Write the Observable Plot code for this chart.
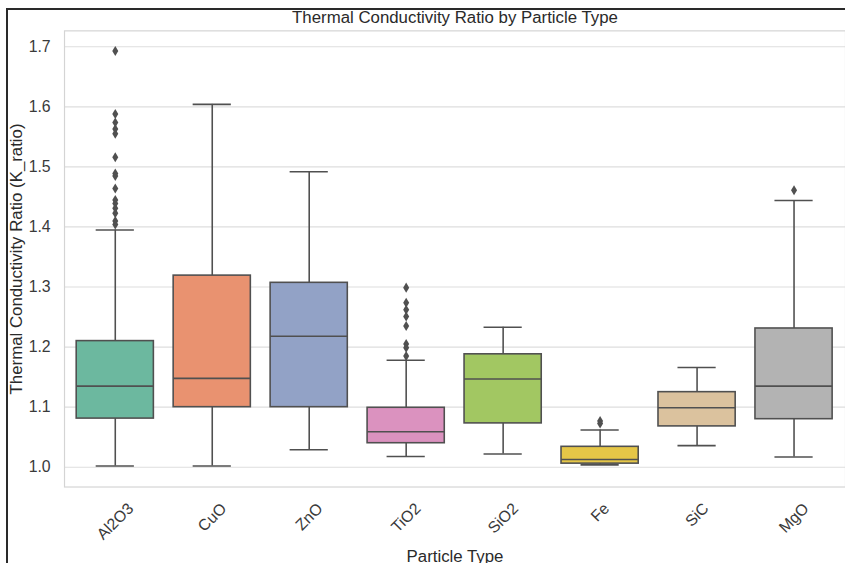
<!DOCTYPE html>
<html>
<head>
<meta charset="utf-8">
<script src="https://cdn.jsdelivr.net/npm/d3@7"></script>
<script src="https://cdn.jsdelivr.net/npm/@observablehq/plot@0.6"></script>
<style>
  html, body { margin: 0; padding: 0; background: #fff; overflow: hidden; }
  #wrap { position: relative; width: 845px; height: 563px; overflow: hidden; }
  #chart { position: absolute; left: 0; top: 0; }
  #border { position: absolute; left: 6px; top: 8px; width: 845px; height: 563px;
            border-left: 2px solid #2a2a2a; border-top: 2px solid #2a2a2a; pointer-events: none; }
</style>
</head>
<body>
<div id="wrap"><div id="chart"></div><div id="border"></div></div>
<script>
// ---- data ----
const particleTypes = ["Al2O3", "CuO", "ZnO", "TiO2", "SiO2", "Fe", "SiC", "MgO"];
const q1          = [1.081, 1.100, 1.100, 1.040, 1.073, 1.006, 1.068, 1.080];
const median      = [1.135, 1.148, 1.218, 1.059, 1.147, 1.013, 1.099, 1.135];
const q3          = [1.210, 1.319, 1.307, 1.099, 1.188, 1.034, 1.125, 1.231];
const whiskerLow  = [1.002, 1.002, 1.029, 1.018, 1.022, 1.004, 1.036, 1.017];
const whiskerHigh = [1.395, 1.604, 1.492, 1.178, 1.233, 1.062, 1.166, 1.444];
const outliersAl2O3 = [1.693, 1.588, 1.574, 1.563, 1.555, 1.516, 1.489, 1.485, 1.464, 1.445, 1.439, 1.431, 1.423, 1.410, 1.404];
const outliersTiO2  = [1.299, 1.274, 1.262, 1.251, 1.235, 1.205, 1.199, 1.185];
const outliersFe    = [1.077, 1.073];
const outliersMgO   = [1.461];
const boxColors = ["#6cb89f", "#e99270", "#92a2c6", "#db92bf", "#a2c762", "#e5c647", "#dbc29e", "#b3b3b3"];
const yTicks = [1.0, 1.1, 1.2, 1.3, 1.4, 1.5, 1.6, 1.7];
const titleText = "Thermal Conductivity Ratio by Particle Type";
const xLabel = "Particle Type";
const yLabel = "Thermal Conductivity Ratio (K_ratio)";

// ---- tables built from arrays ----
const boxes = particleTypes.map((c, i) => ({
  cat: c, q1: q1[i], med: median[i], q3: q3[i], lo: whiskerLow[i], hi: whiskerHigh[i], color: boxColors[i]
}));
const outliers = [
  ...outliersAl2O3.map(v => ({cat: "Al2O3", v})),
  ...outliersTiO2.map(v => ({cat: "TiO2", v})),
  ...outliersFe.map(v => ({cat: "Fe", v})),
  ...outliersMgO.map(v => ({cat: "MgO", v}))
];

const lineColor = "#505050";
const fontFamily = "'Liberation Sans', Arial, 'DejaVu Sans', sans-serif";
const tickFont = 16;
const labelFont = 17;

const thinDiamond = {
  draw(context, size) {
    const r = Math.sqrt(size / Math.PI);
    context.moveTo(0, -1.3 * r);
    context.lineTo(0.78 * r, 0);
    context.lineTo(0, 1.3 * r);
    context.lineTo(-0.78 * r, 0);
    context.closePath();
  }
};

// measure label widths for matplotlib-like rotated label placement
const cv = document.createElement("canvas").getContext("2d");
cv.font = `${tickFont}px ${fontFamily}`;
const labelMarks = particleTypes.map(c => {
  const w = cv.measureText(c).width;
  const half = (w + 0.72 * tickFont) * Math.SQRT1_2 / 2;
  return Plot.text([c], {
    x: d => d, frameAnchor: "bottom", dy: 15 + half,
    rotate: -45, textAnchor: "middle", lineAnchor: "middle",
    fontSize: tickFont, fill: "#3a3a3a"
  });
});

const chart = Plot.plot({
  width: 854,
  height: 563,
  marginLeft: 64.7,
  marginRight: 0,
  marginTop: 30.7,
  marginBottom: 71.3,
  style: {fontFamily, background: "white", overflow: "visible"},
  x: {type: "band", domain: particleTypes, paddingInner: 0.2, paddingOuter: 0.1, axis: null},
  y: {domain: [0.9671, 1.7264], axis: null},
  marks: [
    Plot.gridY(yTicks, {stroke: "#dedede", strokeOpacity: 1, strokeWidth: 1.2}),
    Plot.frame({stroke: "#d4d4d4", strokeWidth: 1.2}),
    Plot.axisY(yTicks, {tickSize: 0, tickPadding: 14, tickFormat: d3.format(".1f"), fontSize: tickFont, fill: "#3a3a3a", label: null}),
    Plot.ruleX(boxes, {x: "cat", y1: "q3", y2: "hi", stroke: lineColor, strokeWidth: 1.6}),
    Plot.ruleX(boxes, {x: "cat", y1: "lo", y2: "q1", stroke: lineColor, strokeWidth: 1.6}),
    Plot.tickY(boxes, {x: "cat", y: "hi", stroke: lineColor, strokeWidth: 1.6, insetLeft: 19.7, insetRight: 19.7}),
    Plot.tickY(boxes, {x: "cat", y: "lo", stroke: lineColor, strokeWidth: 1.6, insetLeft: 19.7, insetRight: 19.7}),
    Plot.barY(boxes, {x: "cat", y1: "q1", y2: "q3", fill: "color", stroke: lineColor, strokeWidth: 1.6}),
    Plot.tickY(boxes, {x: "cat", y: "med", stroke: lineColor, strokeWidth: 1.6}),
    Plot.dot(outliers, {x: "cat", y: "v", symbol: thinDiamond, r: 3.9, fill: lineColor, stroke: "none"}),
    ...labelMarks,
    Plot.text([titleText], {frameAnchor: "top", dy: -13.7, textAnchor: "middle", lineAnchor: "middle", fontSize: labelFont, fill: "#2a2a2a"}),
    Plot.text([xLabel], {frameAnchor: "bottom", dy: 70, textAnchor: "middle", lineAnchor: "middle", fontSize: labelFont, fill: "#2a2a2a"}),
    Plot.text([yLabel], {frameAnchor: "left", dx: -48.7, rotate: -90, textAnchor: "middle", lineAnchor: "middle", fontSize: labelFont, fill: "#2a2a2a"})
  ]
});
document.getElementById("chart").appendChild(chart);
</script>
</body>
</html>
